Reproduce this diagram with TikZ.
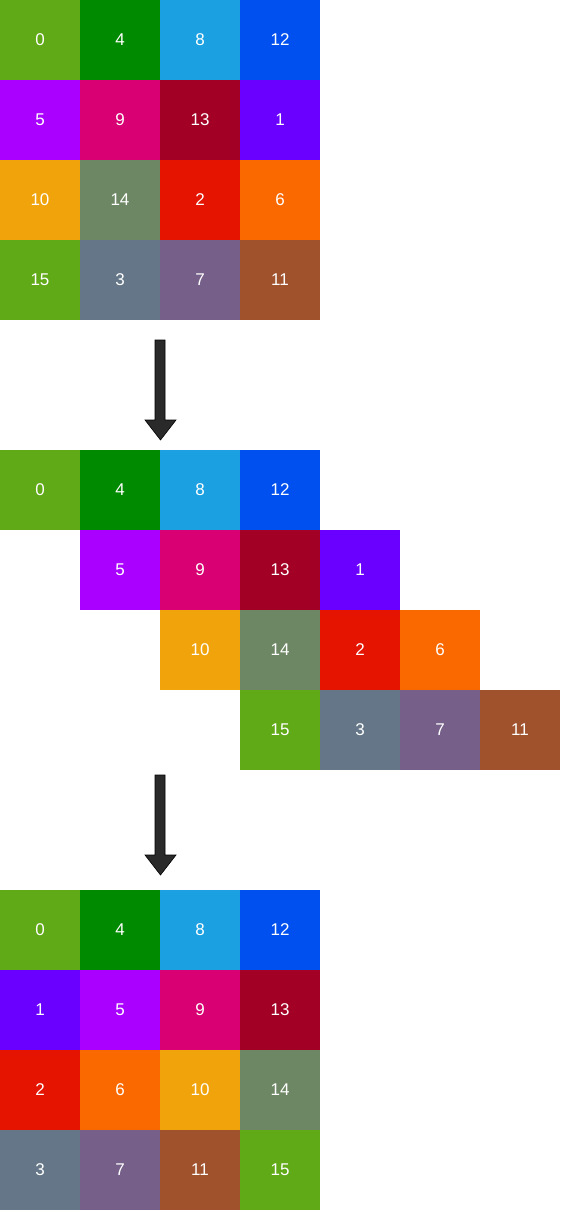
\documentclass[tikz,border=0pt]{standalone}
\usepackage{fontspec}
\setmainfont{Liberation Sans}
\definecolor{c0}{HTML}{60A917}
\definecolor{c4}{HTML}{008A00}
\definecolor{c8}{HTML}{1BA1E2}
\definecolor{c12}{HTML}{0050EF}
\definecolor{c5}{HTML}{AA00FF}
\definecolor{c9}{HTML}{D80073}
\definecolor{c13}{HTML}{A20025}
\definecolor{c1}{HTML}{6A00FF}
\definecolor{c10}{HTML}{F0A30A}
\definecolor{c14}{HTML}{6D8764}
\definecolor{c2}{HTML}{E51400}
\definecolor{c6}{HTML}{FA6800}
\definecolor{c15}{HTML}{60A917}
\definecolor{c3}{HTML}{647687}
\definecolor{c7}{HTML}{76608A}
\definecolor{c11}{HTML}{A0522D}
\definecolor{arrowfill}{HTML}{2A2A2A}
\begin{document}
\begin{tikzpicture}[x=1pt,y=-1pt,
  cell/.style={draw=none,minimum width=80pt,minimum height=80pt,inner sep=0pt,
    text=white,font=\fontsize{17}{20}\selectfont},
  bigarrow/.style={fill=arrowfill,draw=black,line width=0.6pt}]
\useasboundingbox (0,0) rectangle (561,1212);
% grid 1
\foreach \lab [count=\i from 0] in {0,4,8,12,5,9,13,1,10,14,2,6,15,3,7,11}{
  \pgfmathtruncatemacro{\r}{div(\i,4)}
  \pgfmathtruncatemacro{\c}{mod(\i,4)}
  \node[cell,fill=c\lab] (a\lab) at (40+80*\c,40+80*\r) {\raisebox{1.5pt}{\lab}};
}
% grid 2
\foreach \lab [count=\i from 0] in {0,4,8,12,5,9,13,1,10,14,2,6,15,3,7,11}{
  \pgfmathtruncatemacro{\r}{div(\i,4)}
  \pgfmathtruncatemacro{\c}{mod(\i,4)}
  \node[cell,fill=c\lab] (b\lab) at (40+80*\c+80*\r,490+80*\r) {\raisebox{1.5pt}{\lab}};
}
% grid 3
\foreach \lab [count=\i from 0] in {0,4,8,12,1,5,9,13,2,6,10,14,3,7,11,15}{
  \pgfmathtruncatemacro{\r}{div(\i,4)}
  \pgfmathtruncatemacro{\c}{mod(\i,4)}
  \node[cell,fill=c\lab] (d\lab) at (40+80*\c,930+80*\r) {\raisebox{1.5pt}{\lab}};
}
% arrows
\coordinate (p1) at (155,340);
\coordinate (t1) at (160.5,440);
\coordinate (p2) at (155,775);
\coordinate (t2) at (160.5,875);
\draw[bigarrow] (p1) -- ++(10,0) -- ++(0,80) -- ++(11,0) -- (t1) -- ++(-15.5,-20) -- ++(10,0) -- cycle;
\draw[bigarrow] (p2) -- ++(10,0) -- ++(0,80) -- ++(11,0) -- (t2) -- ++(-15.5,-20) -- ++(10,0) -- cycle;
\end{tikzpicture}
\end{document}
